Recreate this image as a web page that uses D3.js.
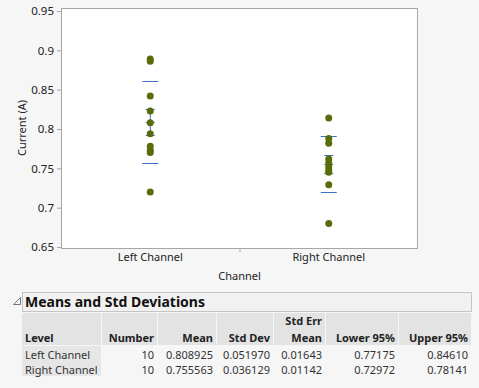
<!DOCTYPE html>
<html>
<head>
<meta charset="utf-8">
<script src="https://cdn.jsdelivr.net/npm/d3@7"></script>
<style>
  body { margin: 0; background: #f6f6f6; }
  svg { display: block; font-family: 'Noto Sans', sans-serif; }
  .tick text { fill: #222; }
</style>
</head>
<body>
<svg class="svgChart"></svg>
<script>
// chart values
const levels = ['Left Channel', 'Right Channel'];
const leftValues = [0.889, 0.886, 0.842, 0.823, 0.808, 0.794, 0.778, 0.773, 0.770, 0.720];
const rightValues = [0.814, 0.788, 0.782, 0.762, 0.757, 0.752, 0.748, 0.745, 0.729, 0.680];
const yTicks = [0.65, 0.7, 0.75, 0.8, 0.85, 0.9, 0.95];

// summary table
const numbers = [10, 10];
const means = ['0.808925', '0.755563'];
const stdDevs = ['0.051970', '0.036129'];
const stdErrs = ['0.01643', '0.01142'];
const lower95 = ['0.77175', '0.72972'];
const upper95 = ['0.84610', '0.78141'];

const W = 479, H = 388;
const frame = { left: 61, top: 8, right: 418, bottom: 248 };

const svg = d3.select('.svgChart')
  .attr('width', W)
  .attr('height', H);

svg.append('rect')
  .attr('width', W).attr('height', H)
  .attr('fill', '#f6f6f6');

const xScale = d3.scaleBand()
  .domain(levels)
  .range([frame.left, frame.right]);

const yScale = d3.scaleLinear()
  .domain([0.65, 0.95])
  .range([247, 11]);

// plot frame
svg.append('rect')
  .attr('x', frame.left + 0.5)
  .attr('y', frame.top + 0.5)
  .attr('width', frame.right - frame.left - 1)
  .attr('height', frame.bottom - frame.top)
  .attr('fill', '#fff')
  .attr('stroke', '#a6a6a6');

// y axis
const yAxis = d3.axisLeft(yScale)
  .tickValues(yTicks)
  .tickSize(4)
  .tickFormat(d => String(+d.toFixed(2)));

svg.append('g')
  .attr('transform', `translate(${frame.left},0)`)
  .call(yAxis)
  .call(g => g.select('.domain').remove())
  .call(g => g.selectAll('line').attr('stroke', '#a6a6a6'))
  .selectAll('text')
    .attr('font-size', 11.5)
    .attr('font-family', 'Noto Sans');

// x axis labels
const xAxis = d3.axisBottom(xScale).tickSize(0).tickPadding(5);
svg.append('g')
  .attr('transform', `translate(0,${frame.bottom})`)
  .call(xAxis)
  .call(g => g.select('.domain').remove())
  .selectAll('text')
    .attr('font-size', 11)
    .attr('font-family', 'Noto Sans');

// tick between the two levels
svg.append('line')
  .attr('x1', xScale(levels[1]) + 0.5)
  .attr('x2', xScale(levels[1]) + 0.5)
  .attr('y1', frame.bottom)
  .attr('y2', frame.bottom + 4)
  .attr('stroke', '#a6a6a6');

// axis titles
svg.append('text')
  .attr('transform', `translate(26,${(frame.top + frame.bottom) / 2}) rotate(-90)`)
  .attr('text-anchor', 'middle')
  .attr('font-size', 11)
  .attr('fill', '#222')
  .text('Current (A)');

svg.append('text')
  .attr('x', (frame.left + frame.right) / 2)
  .attr('y', 280)
  .attr('text-anchor', 'middle')
  .attr('font-size', 11)
  .attr('fill', '#222')
  .text('Channel');

// std dev lines and mean error bars
const blue = '#3f6fc6';
const marks = svg.append('g').attr('stroke', blue).attr('stroke-width', 1);

levels.forEach((lvl, i) => {
  const cx = xScale(lvl) + xScale.bandwidth() / 2;
  const m = +means[i], sd = +stdDevs[i], se = +stdErrs[i];
  [m - sd, m + sd].forEach(v => {
    marks.append('line')
      .attr('x1', cx - 8).attr('x2', cx + 8)
      .attr('y1', Math.round(yScale(v)) + 0.5).attr('y2', Math.round(yScale(v)) + 0.5);
  });
  marks.append('line')
    .attr('x1', cx).attr('x2', cx)
    .attr('y1', yScale(m - se)).attr('y2', yScale(m + se));
  [m - se, m, m + se].forEach(v => {
    marks.append('line')
      .attr('x1', cx - 4.5).attr('x2', cx + 4.5)
      .attr('y1', Math.round(yScale(v)) + 0.5).attr('y2', Math.round(yScale(v)) + 0.5);
  });
});

// points
const points = [];
leftValues.forEach(v => points.push({ level: levels[0], value: v }));
rightValues.forEach(v => points.push({ level: levels[1], value: v }));

svg.append('g')
  .selectAll('circle')
  .data(points)
  .enter()
  .append('circle')
    .attr('cx', d => xScale(d.level) + xScale.bandwidth() / 2)
    .attr('cy', d => yScale(d.value))
    .attr('r', 3.5)
    .attr('fill', '#596c0b');

/****************** table ******************/
// disclosure triangle
svg.append('path')
  .attr('d', 'M13.5,304.5 L20.5,304.5 L20.5,297.5 Z')
  .attr('fill', 'none')
  .attr('stroke', '#777');

svg.append('rect')
  .attr('x', 22.5).attr('y', 292.5)
  .attr('width', 449).attr('height', 19)
  .attr('fill', '#f1f1f1')
  .attr('stroke', '#c4c4c4');

svg.append('text')
  .attr('x', 25)
  .attr('y', 307)
  .attr('font-size', 14)
  .attr('font-weight', 'bold')
  .attr('fill', '#111')
  .text('Means and Std Deviations');

const cols = [
  { head: ['Level'], x0: 22, x1: 101, align: 'start', vals: levels },
  { head: ['Number'], x0: 102, x1: 157, align: 'end', vals: numbers },
  { head: ['Mean'], x0: 158, x1: 216, align: 'end', vals: means },
  { head: ['Std Dev'], x0: 217, x1: 273, align: 'end', vals: stdDevs },
  { head: ['Std Err', 'Mean'], x0: 274, x1: 325, align: 'end', vals: stdErrs },
  { head: ['Lower 95%'], x0: 326, x1: 398, align: 'end', vals: lower95 },
  { head: ['Upper 95%'], x0: 399, x1: 471, align: 'end', vals: upper95 }
];

const headTop = 313, headBottom = 345, rowH = 15;

const col = svg.append('g')
  .selectAll('g')
  .data(cols)
  .enter()
  .append('g');

col.append('rect')
  .attr('x', d => d.x0)
  .attr('y', headTop)
  .attr('width', d => d.x1 - d.x0)
  .attr('height', headBottom - headTop)
  .attr('fill', '#e3e3e3');

col.filter(d => d.align === 'start')
  .append('rect')
  .attr('x', d => d.x0)
  .attr('y', headBottom + 1)
  .attr('width', d => d.x1 - d.x0)
  .attr('height', rowH * 2)
  .attr('fill', '#e6e6e6');

const textX = d => d.align === 'start' ? d.x0 + 3 : d.x1 - 3;

col.each(function(d) {
  const g = d3.select(this);
  d.head.forEach((h, j) => {
    g.append('text')
      .attr('x', textX(d))
      .attr('y', 342 - (d.head.length - 1 - j) * 17)
      .attr('text-anchor', d.align)
      .attr('font-size', 11)
      .attr('font-weight', 'bold')
      .attr('fill', '#222')
      .text(h);
  });
  d.vals.forEach((v, j) => {
    g.append('text')
      .attr('x', textX(d))
      .attr('y', 358.5 + j * rowH)
      .attr('text-anchor', d.align)
      .attr('font-size', 11)
      .attr('fill', '#333')
      .text(v);
  });
});
</script>
</body>
</html>
